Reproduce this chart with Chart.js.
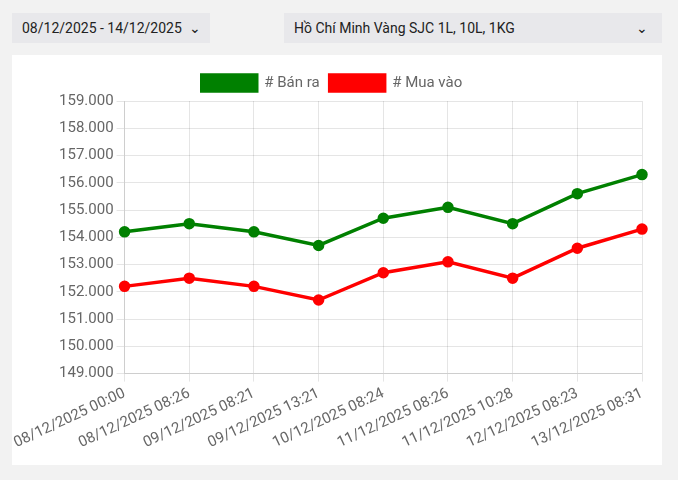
<!DOCTYPE html><html><head><meta charset="utf-8">
<script src="https://cdn.jsdelivr.net/npm/chart.js@4"></script>
<style>
body{margin:0;background:#f2f2f2;font-family:Roboto,sans-serif;width:678px;height:480px;position:relative;overflow:hidden}
.box{position:absolute;top:13px;height:30px;background:#e8e8eb;font-size:14px;color:#222;line-height:30px;box-sizing:border-box;padding-left:10px}
.card{position:absolute;left:12px;top:55px;width:650px;height:410px;background:#fff}
</style></head><body>
<div class="box" style="left:12px;width:198px">08/12/2025 - 14/12/2025 <span style="display:inline-block;margin-left:4px">&#8964;</span></div>
<div class="box" style="left:284px;width:378px">Hồ Chí Minh Vàng SJC 1L, 10L, 1KG<span style="position:absolute;right:14px">&#8964;</span></div>
<div class="card"><canvas id="c" width="650" height="410"></canvas></div>
<script>
const labels=["08/12/2025 00:00","08/12/2025 08:26","09/12/2025 08:21","09/12/2025 13:21","10/12/2025 08:24","11/12/2025 08:26","11/12/2025 10:28","12/12/2025 08:23","13/12/2025 08:31"];
const banRa=[154200,154500,154200,153700,154700,155100,154500,155600,156300];
const muaVao=[152200,152500,152200,151700,152700,153100,152500,153600,154300];
new Chart(document.getElementById('c'),{type:'line',data:{labels,datasets:[
{label:'# Bán ra',data:banRa,borderColor:'green',backgroundColor:'green',borderWidth:3.5,pointRadius:4,tension:0},
{label:'# Mua vào',data:muaVao,borderColor:'red',backgroundColor:'red',borderWidth:3.5,pointRadius:4,tension:0}]},
options:{responsive:false,animation:false,layout:{padding:{left:10,right:20,top:10,bottom:10}},
plugins:{legend:{labels:{boxWidth:55,boxHeight:16,font:{size:15,family:'Roboto'},color:'#666'}},tooltip:{enabled:false}},
scales:{y:{min:149000,max:159000,ticks:{stepSize:1000,font:{size:15,family:'Roboto'},color:'#666',callback:v=>v.toLocaleString('de-DE',{minimumFractionDigits:3}).replace(/,/, '')?(v/1000).toFixed(3):''}},
x:{ticks:{font:{size:15,family:'Roboto'},color:'#666',maxRotation:25,minRotation:25}}}}});
</script></body></html>
